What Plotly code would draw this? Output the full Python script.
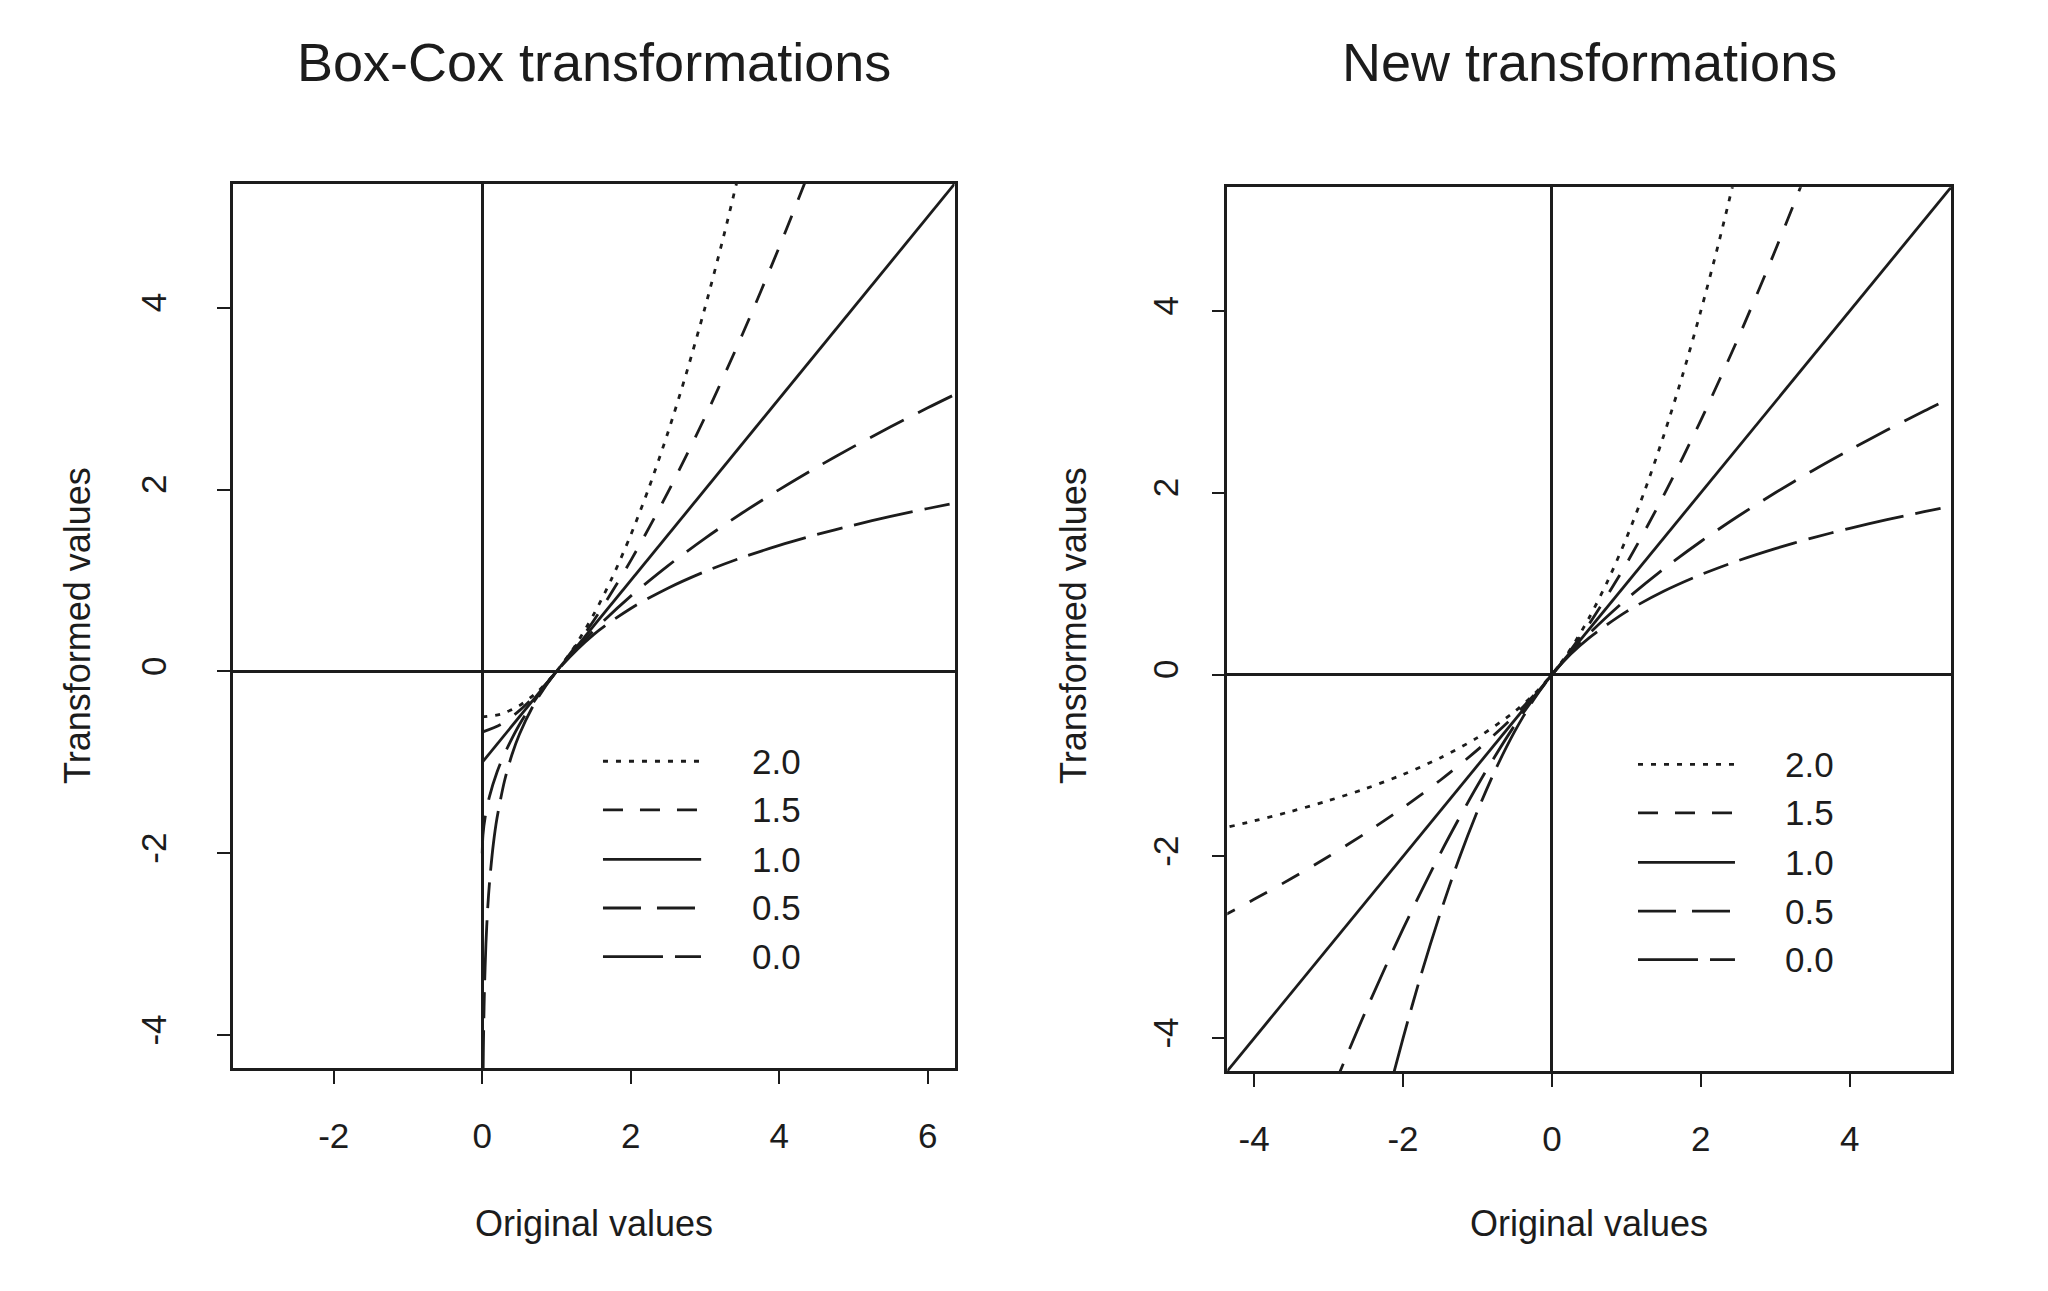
import plotly.graph_objects as go

# ---------------- data ----------------
lambda_labels = ["2.0", "1.5", "1.0", "0.5", "0.0"]
x_ticks_left = [-2, 0, 2, 4, 6]
x_ticks_right = [-4, -2, 0, 2, 4]
y_ticks = [-4, -2, 0, 2, 4]

# Box-Cox panel
bc_x_20 = [0, 0.25, 0.5, 0.75, 1, 1.25, 1.5, 1.75, 2, 2.25, 2.5, 2.75, 3, 3.25, 3.5]
bc_y_20 = [-0.5, -0.469, -0.375, -0.219, 0, 0.281, 0.625, 1.031, 1.5, 2.031, 2.625, 3.281, 4.0, 4.781, 5.625]
bc_x_15 = [0, 0.25, 0.5, 0.75, 1, 1.5, 2, 2.5, 3, 3.5, 4, 4.5]
bc_y_15 = [-0.667, -0.583, -0.431, -0.234, 0, 0.558, 1.219, 1.969, 2.797, 3.699, 4.667, 5.697]
bc_x_10 = [0, 6.5]
bc_y_10 = [-1, 5.5]
bc_x_05 = [0, 0.01, 0.04, 0.1, 0.2, 0.3, 0.5, 0.75, 1, 1.5, 2, 2.5, 3, 3.5, 4, 4.5, 5, 5.5, 6, 6.5]
bc_y_05 = [-2, -1.8, -1.6, -1.368, -1.106, -0.905, -0.586, -0.268, 0, 0.449, 0.828, 1.162, 1.464,
           1.742, 2.0, 2.243, 2.472, 2.690, 2.899, 3.099]
bc_x_00 = [0.01, 0.015, 0.02, 0.03, 0.05, 0.075, 0.1, 0.15, 0.2, 0.3, 0.4, 0.5, 0.7, 1, 1.5, 2, 2.5,
           3, 3.5, 4, 4.5, 5, 5.5, 6, 6.5]
bc_y_00 = [-4.605, -4.200, -3.912, -3.507, -2.996, -2.590, -2.303, -1.897, -1.609, -1.204, -0.916,
           -0.693, -0.357, 0, 0.405, 0.693, 0.916, 1.099, 1.253, 1.386, 1.504, 1.609, 1.705, 1.792, 1.872]

# New (Yeo-Johnson) panel
nt_x_20 = [-4.5, -4, -3.5, -3, -2.5, -2, -1.5, -1, -0.5, -0.25, 0, 0.25, 0.5, 0.75, 1, 1.25, 1.5,
           1.75, 2, 2.25, 2.5]
nt_y_20 = [-1.705, -1.609, -1.504, -1.386, -1.253, -1.099, -0.916, -0.693, -0.405, -0.223, 0, 0.281,
           0.625, 1.031, 1.5, 2.031, 2.625, 3.281, 4.0, 4.781, 5.625]
nt_x_15 = [-4.5, -4, -3.5, -3, -2.5, -2, -1.5, -1, -0.5, 0, 0.5, 1, 1.5, 2, 2.5, 3, 3.5]
nt_y_15 = [-2.690, -2.472, -2.243, -2.0, -1.742, -1.464, -1.162, -0.828, -0.449, 0, 0.558, 1.219,
           1.969, 2.797, 3.699, 4.667, 5.697]
nt_x_10 = [-4.5, 5.5]
nt_y_10 = [-4.5, 5.5]
nt_x_05 = [-3, -2.5, -2, -1.5, -1, -0.5, 0, 0.5, 1, 1.5, 2, 2.5, 3, 3.5, 4, 4.5, 5, 5.5]
nt_y_05 = [-4.667, -3.699, -2.797, -1.969, -1.219, -0.558, 0, 0.449, 0.828, 1.162, 1.464, 1.742,
           2.0, 2.243, 2.472, 2.690, 2.899, 3.099]
nt_x_00 = [-2.5, -2.25, -2, -1.75, -1.5, -1.25, -1, -0.75, -0.5, -0.25, 0, 0.25, 0.5, 1, 1.5, 2,
           2.5, 3, 3.5, 4, 4.5, 5, 5.5]
nt_y_00 = [-5.625, -4.781, -4.0, -3.281, -2.625, -2.031, -1.5, -1.031, -0.625, -0.281, 0, 0.223,
           0.405, 0.693, 0.916, 1.099, 1.253, 1.386, 1.504, 1.609, 1.705, 1.792, 1.872]

# ---------------- styles ----------------
INK = "#1c1c1c"
FONT = "Liberation Sans, Arial, Helvetica, sans-serif"
LW = 2.8
FRAME_W = 2.6
dash_styles = ["5px,8px", "20px,17px", "solid", "38px,16px", "60px,12px,26px,12px"]

left_series = [(bc_x_20, bc_y_20), (bc_x_15, bc_y_15), (bc_x_10, bc_y_10),
               (bc_x_05, bc_y_05), (bc_x_00, bc_y_00)]
right_series = [(nt_x_20, nt_y_20), (nt_x_15, nt_y_15), (nt_x_10, nt_y_10),
                (nt_x_05, nt_y_05), (nt_x_00, nt_y_00)]

fig = go.Figure()
for (xs, ys), d in zip(left_series, dash_styles):
    fig.add_trace(go.Scatter(x=xs, y=ys, mode="lines", xaxis="x", yaxis="y",
                             line=dict(color=INK, width=LW, dash=d, shape="spline", smoothing=0.8),
                             showlegend=False, hoverinfo="skip"))
for (xs, ys), d in zip(right_series, dash_styles):
    fig.add_trace(go.Scatter(x=xs, y=ys, mode="lines", xaxis="x2", yaxis="y2",
                             line=dict(color=INK, width=LW, dash=d, shape="spline", smoothing=0.8),
                             showlegend=False, hoverinfo="skip"))

W, H = 2048, 1291
L_dom_x = [232.7 / W, 954.5 / W]
L_dom_y = [1 - 1068 / H, 1 - 184 / H]
R_dom_x = [1227.3 / W, 1951 / W]
R_dom_y = [1 - 1071 / H, 1 - 187.3 / H]

def xaxis(domain, anchor, rng, ticks):
    return dict(domain=domain, anchor=anchor, range=rng, tickvals=ticks,
                ticktext=[str(t) for t in ticks], ticks="outside", ticklen=13, tickwidth=2.4,
                tickcolor=INK, showline=True, mirror=True, linecolor=INK, linewidth=FRAME_W,
                showgrid=False, zeroline=True, zerolinecolor=INK, zerolinewidth=FRAME_W,
                tickfont=dict(size=35, color=INK, family=FONT), ticklabelstandoff=22)

def yaxis(domain, anchor, rng, ticks, standoff):
    return dict(domain=domain, anchor=anchor, range=rng, tickvals=ticks,
                ticktext=[str(t) for t in ticks], ticks="outside", ticklen=13, tickwidth=2.4,
                tickcolor=INK, showline=True, mirror=True, linecolor=INK, linewidth=FRAME_W,
                showgrid=False, zeroline=True, zerolinecolor=INK, zerolinewidth=FRAME_W,
                tickangle=-90, tickfont=dict(size=35, color=INK, family=FONT),
                ticklabelstandoff=standoff)

annotations = []
shapes = []

# titles
annotations.append(dict(text="Box-Cox transformations", x=sum(L_dom_x) / 2, y=1 - 62 / H,
                        xref="paper", yref="paper", showarrow=False, xanchor="center",
                        yanchor="middle", font=dict(size=54, color=INK, family=FONT)))
annotations.append(dict(text="New transformations", x=sum(R_dom_x) / 2, y=1 - 62 / H,
                        xref="paper", yref="paper", showarrow=False, xanchor="center",
                        yanchor="middle", font=dict(size=54, color=INK, family=FONT)))
# axis titles
for dom_x, dom_y, xc, yc in [(L_dom_x, L_dom_y, 77, 626), (R_dom_x, R_dom_y, 1073, 626)]:
    annotations.append(dict(text="Original values", x=sum(dom_x) / 2, y=1 - 1223 / H,
                            xref="paper", yref="paper", showarrow=False, xanchor="center",
                            yanchor="middle", font=dict(size=36, color=INK, family=FONT)))
    annotations.append(dict(text="Transformed values", x=xc / W, y=1 - yc / H,
                            xref="paper", yref="paper", showarrow=False, xanchor="center",
                            yanchor="middle", textangle=-90,
                            font=dict(size=36, color=INK, family=FONT)))

# legends (one per panel)
leg_rows = [0.347, 0.292, 0.236, 0.181, 0.126]
for xr, yr, sx0, sx1, tx in [("x domain", "y domain", 0.513, 0.649, 0.717),
                             ("x2 domain", "y2 domain", 0.5675, 0.7015, 0.768)]:
    for lab, d, ry in zip(lambda_labels, dash_styles, leg_rows):
        shapes.append(dict(type="line", xref=xr, yref=yr, x0=sx0, x1=sx1, y0=ry, y1=ry,
                           line=dict(color=INK, width=LW, dash=d)))
        annotations.append(dict(text=lab, xref=xr, yref=yr, x=tx, y=ry, showarrow=False,
                                xanchor="left", yanchor="middle",
                                font=dict(size=35, color=INK, family=FONT)))

fig.update_layout(
    width=W, height=H, margin=dict(l=0, r=0, t=0, b=0),
    paper_bgcolor="white", plot_bgcolor="white",
    xaxis=xaxis(L_dom_x, "y", [-3.36, 6.36], x_ticks_left),
    yaxis=yaxis(L_dom_y, "x", [-4.36, 5.36], y_ticks, 37),
    xaxis2=xaxis(R_dom_x, "y2", [-4.36, 5.36], x_ticks_right),
    yaxis2=yaxis(R_dom_y, "x2", [-4.36, 5.36], y_ticks, 20),
    annotations=annotations, shapes=shapes,
    font=dict(family=FONT, color=INK),
)

fig.write_html("out.html")
